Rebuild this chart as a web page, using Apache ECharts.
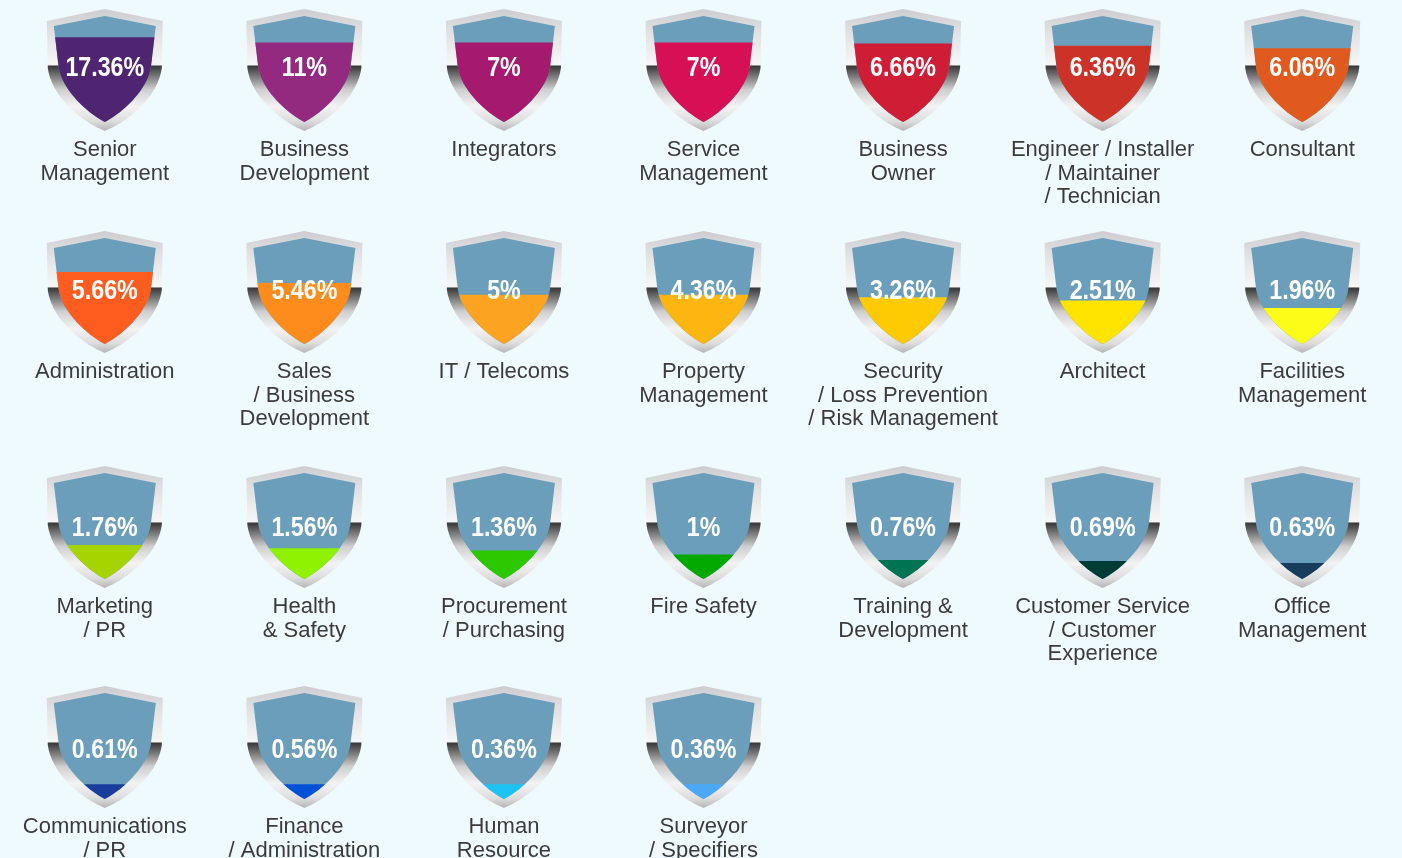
<!DOCTYPE html>
<html><head><meta charset="utf-8">
<script src="https://cdn.jsdelivr.net/npm/echarts@6/dist/echarts.min.js"></script>
<style>html,body{margin:0;padding:0;background:#effaff;}#main{width:1402px;height:858px;}</style>
</head><body><div id="main"></div>
<script>
// ---- data ----
const categories = [
  'Senior\nManagement', 'Business\nDevelopment', 'Integrators', 'Service\nManagement', 'Business\nOwner', 'Engineer / Installer\n/ Maintainer\n/ Technician', 'Consultant',
  'Administration', 'Sales\n/ Business\nDevelopment', 'IT / Telecoms', 'Property\nManagement', 'Security\n/ Loss Prevention\n/ Risk Management', 'Architect', 'Facilities\nManagement',
  'Marketing\n/ PR', 'Health\n& Safety', 'Procurement\n/ Purchasing', 'Fire Safety', 'Training &\nDevelopment', 'Customer Service\n/ Customer\nExperience', 'Office\nManagement',
  'Communications\n/ PR', 'Finance\n/ Administration', 'Human\nResource', 'Surveyor\n/ Specifiers'
];
const values = [17.36, 11, 7, 7, 6.66, 6.36, 6.06, 5.66, 5.46, 5, 4.36, 3.26, 2.51, 1.96, 1.76, 1.56, 1.36, 1, 0.76, 0.69, 0.63, 0.61, 0.56, 0.36, 0.36];
// fill level of each shield as drawn (percent of shield height)
const fillLevels = [80, 75, 75, 75, 74, 72, 69.5, 68, 57.5, 46.5, 46.5, 44, 41, 34, 32, 29, 27, 23, 18, 17, 15, 14, 14, 14, 14];
const fillColors = ['#4f2470', '#932a80', '#a5196e', '#d70f55', '#cf1d36', '#cd3228', '#e05a20',
  '#ff5c1f', '#fd8c1d', '#fca421', '#fdb610', '#fecb02', '#ffe400', '#fdfc18',
  '#a6d400', '#8ef200', '#2ec800', '#03a800', '#007352', '#003c36', '#173c5c',
  '#1a3c9b', '#0050d8', '#1cc3f3', '#4aa8f7'];

// ---- layout ----
const PER_ROW = 7;
const rowTops = [16, 238, 473, 693];
const rowTextLevels = [51, 50, 48, 46];
const SHIELD_H = 106;

function cubic(p0, p1, p2, p3, n) {
  const pts = [];
  for (let i = 1; i <= n; i++) {
    const t = i / n, u = 1 - t;
    pts.push([
      u*u*u*p0[0] + 3*u*u*t*p1[0] + 3*u*t*t*p2[0] + t*t*t*p3[0],
      u*u*u*p0[1] + 3*u*u*t*p1[1] + 3*u*t*t*p2[1] + t*t*t*p3[1]
    ]);
  }
  return pts;
}
function shieldPts(cx, py, s, top, corner, side, c1, c2, tip) {
  const right = [[0, top], corner, side].concat(cubic(side, c1, c2, [0, tip], 18));
  const left = right.slice(1, -1).reverse().map(p => [-p[0], p[1]]);
  return right.concat(left).map(p => [cx + p[0] * s, py + p[1] * s]);
}
function clipBelow(pts, fy) {
  const out = [];
  for (let i = 0; i < pts.length; i++) {
    const a = pts[i], b = pts[(i + 1) % pts.length];
    const ain = a[1] >= fy, bin = b[1] >= fy;
    if (ain) out.push(a);
    if (ain !== bin) {
      const t = (fy - a[1]) / (b[1] - a[1]);
      out.push([a[0] + t * (b[0] - a[0]), fy]);
    }
  }
  return out;
}
const frameGrad = new echarts.graphic.LinearGradient(0, 0, 0, 1, [
  { offset: 0, color: '#cdcdd1' },
  { offset: 0.2, color: '#e2e2e4' },
  { offset: 0.455, color: '#f6f6f6' },
  { offset: 0.47, color: '#3a3a3a' },
  { offset: 0.55, color: '#787878' },
  { offset: 0.66, color: '#cfcfcf' },
  { offset: 0.8, color: '#f3f3f3' },
  { offset: 0.92, color: '#dddddd' },
  { offset: 1, color: '#b5b5b5' }
]);

function makeRenderItem(textLevel) {
  return function (params, api) {
    const idx = api.value(0), fill = api.value(2), gi = api.value(3);
    const tip = api.coord([idx, 0]);
    const peak = api.coord([idx, 100]);
    const s = (tip[1] - peak[1]) / SHIELD_H;
    const cx = tip[0], py = peak[1];
    const outer = shieldPts(cx, py, s, -7, [58, 5], [57, 52], [53, 82], [22, 106], 115);
    const inner = shieldPts(cx, py, s, 0, [51, 10], [46, 52], [42, 75], [16, 98], 106);
    const fy = api.coord([idx, fill])[1];
    const filled = clipBelow(inner, fy);
    const ty = api.coord([idx, textLevel])[1];
    return {
      type: 'group',
      children: [
        { type: 'polygon', shape: { points: outer }, style: { fill: frameGrad } },
        { type: 'polygon', shape: { points: inner }, style: { fill: '#6b9eba' } },
        { type: 'polygon', shape: { points: filled }, style: { fill: fillColors[gi] } },
        { type: 'text', x: cx, y: ty, scaleX: 0.83, style: {
            text: values[gi] + '%', align: 'center', verticalAlign: 'middle', fill: '#ffffff',
            fontSize: 28, fontWeight: 'bold', fontFamily: '"Liberation Sans", Arial, sans-serif'
        } }
      ]
    };
  };
}

const grids = [], xAxes = [], yAxes = [], series = [];
for (let r = 0; r < rowTops.length; r++) {
  const start = r * PER_ROW;
  const rowCats = categories.slice(start, start + PER_ROW);
  while (rowCats.length < PER_ROW) rowCats.push('');
  grids.push({ left: 5, right: 0, top: rowTops[r], height: SHIELD_H, containLabel: false, outerBoundsMode: 'none' });
  xAxes.push({
    type: 'category', gridIndex: r, data: rowCats, boundaryGap: true,
    axisLine: { show: false }, axisTick: { show: false }, splitLine: { show: false },
    axisLabel: { interval: 0, margin: 16.5, fontSize: 22, lineHeight: 23.5, color: '#3b3b3b',
      fontFamily: '"Liberation Sans", Arial, sans-serif', align: 'center' }
  });
  yAxes.push({ type: 'value', gridIndex: r, min: 0, max: 100, show: false, splitLine: { show: false } });
  const data = [];
  for (let c = 0; c < PER_ROW && start + c < values.length; c++) {
    data.push([c, values[start + c], fillLevels[start + c], start + c]);
  }
  series.push({
    type: 'custom', xAxisIndex: r, yAxisIndex: r, renderItem: makeRenderItem(rowTextLevels[r]),
    encode: { x: 0, y: 2 }, data: data, clip: false, silent: true
  });
}

const chart = echarts.init(document.getElementById('main'), null, { renderer: 'canvas' });
chart.setOption({
  backgroundColor: '#effaff',
  animation: false,
  grid: grids, xAxis: xAxes, yAxis: yAxes, series: series
});
</script>
</body></html>
